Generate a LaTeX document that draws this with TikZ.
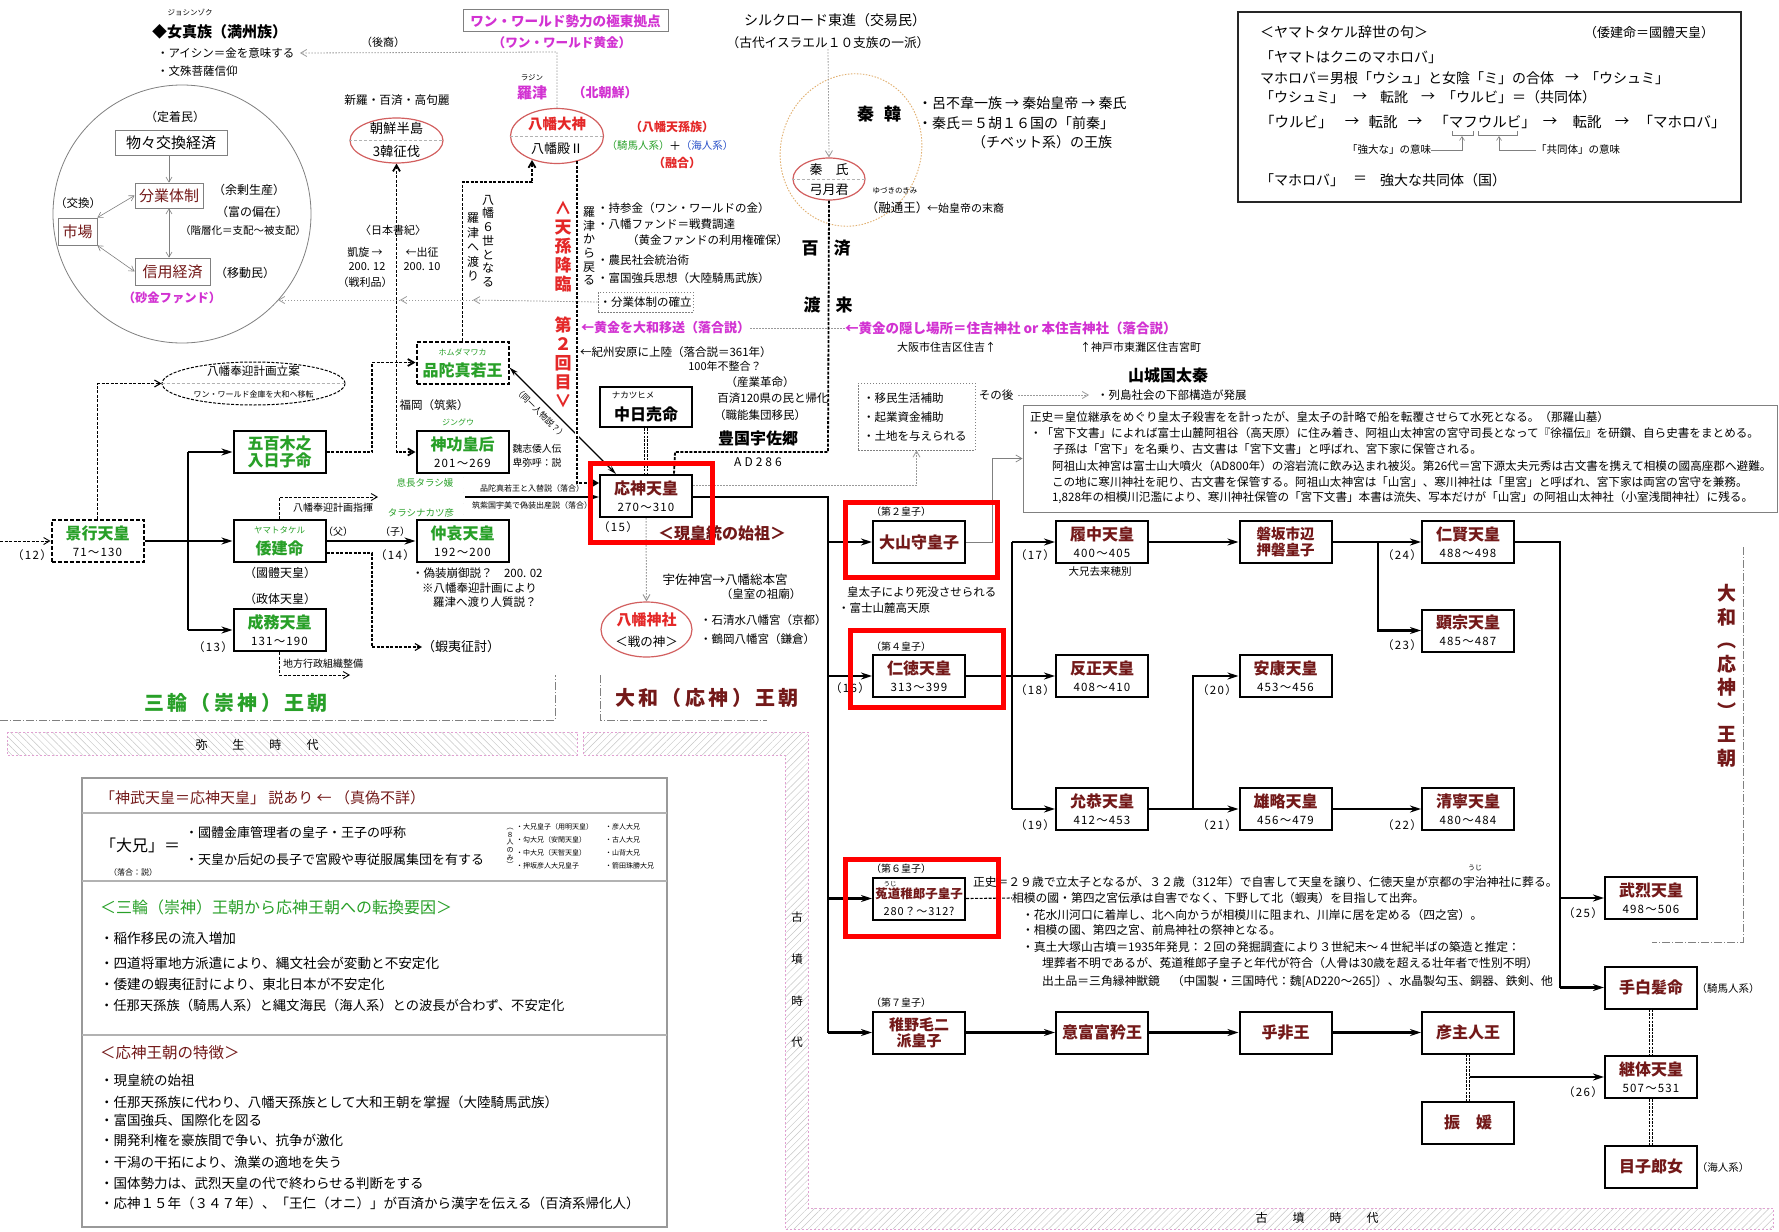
\documentclass[tikz,border=0pt]{standalone}
\usepackage{fontspec}
\setmainfont{Noto Sans CJK JP}
\usetikzlibrary{arrows.meta,shapes.geometric,patterns.meta,calc}
\definecolor{dred}{RGB}{115,25,25}
\definecolor{jgreen}{RGB}{40,160,40}
\definecolor{mag}{RGB}{210,50,210}
\definecolor{rtxt}{RGB}{228,40,40}
\definecolor{rell}{RGB}{210,95,95}
\definecolor{jblue}{RGB}{40,80,200}
\definecolor{hl}{RGB}{255,0,0}
\definecolor{eggc}{RGB}{225,175,110}
\definecolor{pinkb}{RGB}{225,160,210}
\newcommand\fsz[1]{\fontsize{#1}{#1}\selectfont}
\newcommand\fszb[2]{\fontsize{#1}{#2}\selectfont}
\tikzset{
 tx/.style={inner sep=0pt,outer sep=0pt},
 lt/.style={tx,anchor=west},
 ebox/.style={draw,line width=2pt,minimum width=92pt,minimum height=42pt,inner sep=0pt},
 dbox/.style={ebox,dash pattern=on 4pt off 2pt},
 thk/.style={line width=2.4pt,-{Stealth[length=11pt,width=7pt]}},
 thkl/.style={line width=2.4pt},
 dsh/.style={line width=1.8pt,dash pattern=on 3pt off 1.5pt},
 mdsh/.style={line width=1.1pt,dash pattern=on 3pt off 1.5pt},
 gdot/.style={gray!80,line width=0.8pt,dash pattern=on 1.5pt off 1.5pt},
 gar/.style={-{Straight Barb[length=6pt,width=7pt]}},
 dbl/.style={double=white,double distance=2.5pt,line width=0.7pt,dash pattern=on 2.5pt off 1.2pt},
 hlr/.style={draw=hl,line width=5pt},
 ovl/.style={ellipse,draw=rell,line width=1.2pt,inner sep=0pt},
 dd/.style={gray,line width=0.8pt,dash pattern=on 8pt off 2pt on 1pt off 2pt},
 spc/.style={font=\fsz{11.5}\addfontfeature{LetterSpace=12}},
}
\newcommand\emp[7]{%
 \node[#1] (#2) at (#3,#4) {};
 \node[tx,font=\fsz{16}\bfseries,text=#7] (#2n) at (#3,#4-8) {#5};
 \node[tx,font=\fsz{11.5}\addfontfeature{LetterSpace=10}] (#2d) at (#3,#4+11) {#6};}
\newcommand\sbx[7]{\node[ebox,align=center,text=#5,font=\fszb{#6}{#7}\bfseries] (#1) at (#2,#3) {#4};}
\begin{document}
\begin{tikzpicture}[x=1pt,y=-1pt]
\useasboundingbox (0,0) rectangle (1779,1231);
\fill[white] (0,0) rectangle (1779,1231);
% ---------------- period bands
\fill[pattern={Lines[angle=-45,distance=5pt,line width=0.45pt]},pattern color=gray!45] (7,732) rectangle (577,755);
\draw[pinkb,line width=0.7pt,dash pattern=on 2pt off 2pt] (7,732) rectangle (577,755);
\fill[pattern={Lines[angle=45,distance=5pt,line width=0.45pt]},pattern color=gray!45] (583,732) -- (808,732) -- (808,1208) -- (1773,1208) -- (1773,1229) -- (785,1229) -- (785,755) -- (583,755) -- cycle;
\draw[pinkb,line width=0.7pt,dash pattern=on 2pt off 2pt] (583,732) -- (808,732) -- (808,1208) -- (1773,1208) -- (1773,1229) -- (785,1229) -- (785,755) -- (583,755) -- cycle;
\node[tx,font=\fsz{12}] (yayoi) at (257,745) {弥\hspace{25pt}生\hspace{25pt}時\hspace{25pt}代};
\node[tx,font=\fsz{12}] (kofun1) at (1317,1218) {古\hspace{25pt}墳\hspace{25pt}時\hspace{25pt}代};
\node[tx,align=center,font=\fszb{11.5}{41.7}] (kofun2) at (797,980) {古\\墳\\時\\代};
% dynasty brackets
\draw[dd] (0,720) -- (555,720) -- (555,675);
\draw[dd] (600,675) -- (600,720) -- (767,720);
\draw[dd] (1743,547) -- (1743,942) -- (1652,942);
\node[tx,font=\fsz{20}\bfseries\addfontfeature{LetterSpace=17},text=jgreen] (miwa) at (236,703) {三輪（崇神）王朝};
\node[tx,font=\fsz{20}\bfseries\addfontfeature{LetterSpace=17},text=dred] (yamatoo) at (707,698) {大和（応神）王朝};
\node[tx,align=center,font=\fszb{19}{23.5}\bfseries,text=dred] (yamv) at (1727,676) {大\\和\\︵\\応\\神\\︶\\王\\朝};
% ---------------- top left: Jurchen
\node[tx,font=\fsz{7.5}] (jr) at (190,13) {ジョシンゾク};
\node[lt,font=\fsz{15}\bfseries] (jur) at (152,32) {◆女真族（満州族）};
\node[lt,font=\fsz{11.5}] (ais) at (157,53) {・アイシン＝金を意味する};
\node[lt,font=\fsz{11.5}] (mon) at (157,71) {・文殊菩薩信仰};
\node[tx,font=\fsz{11}] (koe) at (383,42) {（後裔）};
\coordinate (jarr) at (300,53);
% economy circle
\node[circle,draw=gray,line width=0.8pt,minimum size=258pt,inner sep=0pt] (econ) at (182,214) {};
\node[tx,font=\fsz{12}] (teichaku) at (175,117) {（定着民）};
\node[draw=gray,line width=0.8pt,minimum width=112pt,minimum height=25pt,inner sep=0pt,font=\fsz{15}] (butsu) at (171,142.5) {物々交換経済};
\node[draw=gray,line width=0.8pt,minimum width=68pt,minimum height=25pt,inner sep=0pt,font=\fsz{15},text=dred] (bungyo) at (169,195.5) {分業体制};
\node[draw=gray,line width=0.8pt,minimum width=39pt,minimum height=27pt,inner sep=0pt,font=\fsz{15},text=dred] (ichiba) at (77.5,231.5) {市場};
\node[draw=gray,line width=0.8pt,minimum width=75pt,minimum height=27pt,inner sep=0pt,font=\fsz{15},text=dred] (shinyo) at (172.5,271.5) {信用経済};
\node[lt,font=\fsz{12}] (yojo) at (213,190) {（余剰生産）};
\node[lt,font=\fsz{12}] (tomi) at (216,212) {（富の偏在）};
\node[lt,font=\fsz{10.5}] (kaiso) at (180,231) {（階層化＝支配～被支配）};
\node[tx,font=\fsz{11.5}] (kokan) at (78,203) {（交換）};
\node[lt,font=\fsz{12}] (idomin) at (215,273) {（移動民）};
\node[tx,font=\fsz{12.3}\bfseries,text=mag] (sakin) at (172,298) {（砂金ファンド）};
\draw[gray,line width=0.6pt,-{Straight Barb[length=5pt,width=6pt]}] (butsu.south -| bungyo.north) -- (bungyo.north);
\draw[gray,line width=0.6pt,{Straight Barb[length=5pt,width=6pt]}-{Straight Barb[length=5pt,width=6pt]}] (bungyo.south) -- (bungyo.south |- shinyo.north);
\draw[gray,line width=0.6pt,{Straight Barb[length=5pt,width=6pt]}-{Straight Barb[length=5pt,width=6pt]}] (ichiba.north east) -- (bungyo.west);
\draw[gray,line width=0.6pt,{Straight Barb[length=5pt,width=6pt]}-{Straight Barb[length=5pt,width=6pt]}] (ichiba.south east) -- (shinyo.west);
% ---------------- Korea
\node[tx,font=\fsz{11.7}] (shiragi) at (397,100) {新羅・百済・高句麗};
\node[ovl,minimum width=93pt,minimum height=45pt] (chosen) at (396.5,140.5) {};
\draw[gray!60,densely dashed,line width=0.5pt] (chosen.west) -- (chosen.east);
\node[tx,font=\fsz{13.3}] (chosen1) at (396.5,128) {朝鮮半島};
\node[tx,font=\fsz{13.3}] (chosen2) at (396.5,151) {3韓征伐};
\node[tx,font=\fsz{11}] (nihon) at (393,230) {〈日本書紀〉};
\node[tx,font=\fsz{11}] (gaisen) at (365,252) {凱旋 →};
\node[tx,font=\fsz{11}] (shussei) at (422,252) {←出征};
\node[tx,font=\fsz{11}] (dt1) at (367,267) {200. 12};
\node[tx,font=\fsz{11}] (dt2) at (422,267) {200. 10};
\node[tx,font=\fsz{11}] (senri) at (365,282) {（戦利品）};
% Hachiman plan ellipse
\node[ellipse,draw,line width=1pt,dash pattern=on 3pt off 1.5pt,minimum width=183pt,minimum height=43pt,inner sep=0pt] (hoge) at (253.5,383.5) {};
\draw[gray!60,densely dashed,line width=0.5pt] (hoge.west) -- (hoge.east);
\node[tx,font=\fsz{11.6}] (hoge1) at (253.5,371) {八幡奉迎計画立案};
\node[tx,font=\fsz{8}] (hoge2) at (253.5,394) {ワン・ワールド金庫を大和へ移転};
% ---------------- One World / Hachiman
\node[draw=gray,line width=1pt,minimum width=205pt,minimum height=22pt,inner sep=0pt,font=\fsz{13.6}\bfseries,text=mag] (ww) at (565.5,21) {ワン・ワールド勢力の極東拠点};
\node[tx,font=\fsz{12.6}\bfseries,text=mag] (wwg) at (562,43) {（ワン・ワールド黄金）};
\node[tx,font=\fsz{7.5}] (rajinr) at (532,78) {ラジン};
\node[tx,font=\fsz{15}\bfseries,text=mag] (rajin) at (532,93) {羅津};
\node[tx,font=\fsz{13}\bfseries,text=mag] (kitach) at (605,93) {（北朝鮮）};
\node[ovl,minimum width=93pt,minimum height=55pt] (hachiman) at (557,136) {};
\draw[gray!60,densely dashed,line width=0.5pt] (hachiman.west) -- (hachiman.east);
\node[tx,font=\fsz{14.5}\bfseries,text=rtxt] (hm1) at (557,124) {八幡大神};
\node[tx,font=\fsz{13}] (hm2) at (557,149) {八幡殿Ⅱ};
\node[tx,font=\fsz{12}\bfseries,text=rtxt] (tenson) at (672,127) {（八幡天孫族）};
\node[tx,font=\fsz{10.5},text=jgreen] (kiba) at (638,146) {（騎馬人系）};
\node[tx,font=\fsz{12}] (plus) at (675,146) {＋};
\node[tx,font=\fsz{10.5},text=jblue] (ama) at (707,146) {（海人系）};
\node[tx,font=\fsz{12}\bfseries,text=rtxt] (yugo) at (677,163) {（融合）};
\draw[gdot,gar] (hachiman.north) -- (557,52) -- (jarr);
\node[tx,align=center,font=\fszb{17}{19}\bfseries,text=rtxt] (korin) at (563,247) {∧\\天\\孫\\降\\臨};
\node[tx,align=center,font=\fszb{17}{19}\bfseries,text=rtxt] (dai2) at (563,362) {第\\２\\回\\目\\∨};
\node[tx,align=center,font=\fszb{12}{13.7}] (roku) at (488,241) {八\\幡\\６\\世\\と\\な\\る};
\node[tx,align=center,font=\fszb{12}{14.5}] (watari) at (473,247) {羅\\津\\へ\\渡\\り};
\node[tx,align=center,font=\fszb{12}{13.7}] (modoru) at (589,246) {羅\\津\\か\\ら\\戻\\る};
\node[lt,font=\fsz{11.5}] (b1) at (597,208) {・持参金（ワン・ワールドの金）};
\node[lt,font=\fsz{11.5}] (b2) at (597,224) {・八幡ファンド＝戦費調達};
\node[lt,font=\fsz{11.5}] (b3) at (627,240) {（黄金ファンドの利用権確保）};
\node[lt,font=\fsz{11.5}] (b4) at (597,260) {・農民社会統治術};
\node[lt,font=\fsz{11.5}] (b5) at (597,278) {・富国強兵思想（大陸騎馬武族）};
\node[draw=gray,line width=0.7pt,dash pattern=on 1.5pt off 1.5pt,minimum width=95pt,minimum height=20pt,inner sep=0pt,font=\fsz{11.5}] (bkaku) at (645.5,302) {・分業体制の確立};
\coordinate (ca) at (473,300);
\coordinate (cb) at (400,300);
\draw[gdot,gar] (bkaku.west) -- (ca);
\draw[gdot,gar] (ca) -- (cb);
\draw[gdot,gar] (cb) -- (278,300);
\node[lt,font=\fsz{13}\bfseries,text=mag] (ougon1) at (581,328) {←黄金を大和移送（落合説）};
\node[lt,font=\fsz{13.5}\bfseries,text=mag] (ougon2) at (845,328) {←黄金の隠し場所＝住吉神社 or 本住吉神社（落合説）};
\draw[gdot] (ougon1.east) -- (ougon2.west);
\node[lt,font=\fsz{11}] (osaka) at (897,347) {大阪市住吉区住吉↑};
\node[lt,font=\fsz{11}] (kobe) at (1080,347) {↑神戸市東灘区住吉宮町};
\node[lt,font=\fsz{11.5}] (kishu) at (580,352) {←紀州安原に上陸（落合説＝361年）};
\node[tx,font=\fsz{11}] (fusei) at (725,366) {100年不整合？};
\node[tx,font=\fsz{11.5}] (sangyo) at (760,382) {（産業革命）};
\node[tx,font=\fsz{11.5}] (kudara) at (773,398) {百済120県の民と帰化};
\node[tx,font=\fsz{11.5}] (shokuno) at (760,415) {（職能集団移民）};
\node[tx,font=\fsz{16}\bfseries] (usa) at (758,438) {豊国宇佐郷};
\node[tx,font=\fsz{12}\addfontfeature{LetterSpace=25}] (ad286) at (758,462) {AD286};
% ---------------- Qin / Hata
\node[tx,font=\fsz{14}] (silk1) at (835,20) {シルクロード東進（交易民）};
\node[tx,font=\fsz{12.7}] (silk2) at (828,43) {（古代イスラエル１０支族の一派）};
\draw[eggc,line width=0.9pt,dash pattern=on 1.5pt off 1.5pt,rotate around={-20:(851,150)}] (851,150) ellipse [x radius=70pt,y radius=77pt];
\node[ovl,minimum width=72pt,minimum height=42pt] (hata) at (829,179) {};
\draw[gray!60,densely dashed,line width=0.5pt] (hata.west) -- (hata.east);
\node[tx,font=\fsz{13}] (hata1) at (829,170) {秦　氏};
\node[tx,font=\fsz{13}] (hata2) at (829,190) {弓月君};
\draw[gdot,gar] (silk2.south) -- (hata.north);
\node[tx,font=\fsz{17}\bfseries] (shinkan) at (879,114) {秦\hspace{10pt}韓};
\node[lt,font=\fsz{14}] (ryo1) at (918,103) {・呂不韋一族 → 秦始皇帝 → 秦氏};
\node[lt,font=\fsz{14}] (ryo2) at (918,123) {・秦氏＝５胡１６国の「前秦」};
\node[lt,font=\fsz{14}] (ryo3) at (972,142) {（チベット系）の王族};
\node[tx,font=\fsz{7.5}] (yuzur) at (895,191) {ゆづきのきみ};
\node[tx,font=\fsz{12.5}] (yuzu) at (897,208) {（融通王）};
\node[lt,font=\fsz{11}] (shiko) at (927,208) {←始皇帝の末裔};
\node[tx,font=\fsz{17}\bfseries] (kudara2) at (826,248) {百\hspace{15pt}済};
\node[tx,font=\fsz{17}\bfseries] (toraii) at (828,305) {渡\hspace{15pt}来};
\node[tx,font=\fsz{16}\bfseries] (uzumasa) at (1168,375) {山城国太秦};
\node[tx,font=\fsz{11.5}] (sonogo) at (996,395) {その後};
\node[lt,font=\fsz{11.5}] (rettou) at (1097,395) {・列島社会の下部構造が発展};
\draw[gdot,gar] ([xshift=5pt]sonogo.east) -- ([xshift=-8pt]rettou.west);
\node[draw=gray,line width=0.8pt,dash pattern=on 1.5pt off 1.5pt,minimum width=117pt,minimum height=67pt,inner sep=0pt] (imin) at (916.5,416.5) {};
\node[lt,font=\fsz{11.5}] (imin1) at (863,398) {・移民生活補助};
\node[lt,font=\fsz{11.5}] (imin2) at (863,417) {・起業資金補助};
\node[lt,font=\fsz{11.5}] (imin3) at (863,436) {・土地を与えられる};
% ---------------- Yamato Takeru box
\node[draw=black!85,line width=2.2pt,minimum width=503pt,minimum height=190pt,inner sep=0pt] (ymt) at (1489.5,107) {};
\node[lt,font=\fsz{14}] (y1) at (1260,32) {＜ヤマトタケル辞世の句＞};
\node[tx,font=\fsz{13}] (y1b) at (1649,33) {（倭建命＝國體天皇）};
\node[lt,font=\fsz{14}] (y2) at (1260,57) {「ヤマトはクニのマホロバ」};
\node[lt,font=\fsz{14}] (y3a) at (1260,78) {マホロバ＝男根「ウシュ」と女陰「ミ」の合体};
\node[tx,font=\fsz{14}] (y3b) at (1572,78) {→};
\node[tx,font=\fsz{14}] (y3c) at (1627,78) {「ウシュミ」};
\node[lt,font=\fsz{14}] (y4a) at (1260,97) {「ウシュミ」};
\node[tx,font=\fsz{14}] (y4b) at (1360,97) {→};
\node[tx,font=\fsz{14}] (y4c) at (1394,97) {転訛};
\node[tx,font=\fsz{14}] (y4d) at (1428,97) {→};
\node[lt,font=\fsz{14}] (y4e) at (1442,97) {「ウルビ」＝（共同体）};
\node[lt,font=\fsz{14.5}] (y5a) at (1260,122) {「ウルビ」};
\node[tx,font=\fsz{14.5}] (y5b) at (1352,122) {→};
\node[tx,font=\fsz{14.5}] (y5c) at (1383,122) {転訛};
\node[tx,font=\fsz{14.5}] (y5d) at (1415,122) {→};
\node[tx,font=\fsz{14.5}] (y5e) at (1485,122) {「マフウルビ」};
\node[tx,font=\fsz{14.5}] (y5f) at (1550,122) {→};
\node[tx,font=\fsz{14.5}] (y5g) at (1587,122) {転訛};
\node[tx,font=\fsz{14.5}] (y5h) at (1622,122) {→};
\node[tx,font=\fsz{14.5}] (y5i) at (1682,122) {「マホロバ」};
\draw[gray,line width=0.6pt] (1452,131) -- (1452,135) -- (1473,135) -- (1473,131);
\draw[gray,line width=0.6pt] (1478,131) -- (1478,135) -- (1517,135) -- (1517,131);
\node[tx,font=\fsz{10.5}] (kyodai) at (1389,150) {「強大な」の意味};
\node[tx,font=\fsz{10.5}] (kyodo) at (1578,150) {「共同体」の意味};
\draw[gray,line width=0.6pt,-{Straight Barb[length=4pt,width=5pt]}] (kyodai.east) -| (1462,136);
\draw[gray,line width=0.6pt,-{Straight Barb[length=4pt,width=5pt]}] (kyodo.west) -| (1499,136);
\node[lt,font=\fsz{14}] (y7a) at (1260,180) {「マホロバ」};
\node[tx,font=\fsz{14}] (y7b) at (1360,180) {＝};
\node[lt,font=\fsz{14}] (y7c) at (1380,180) {強大な共同体（国）};
% ---------------- left genealogy (Miwa)
\emp{dbox}{keiko}{97.5}{541}{景行天皇}{71～130}{jgreen}
\node[ebox] (iogi) at (279.5,452) {};
\node[tx,align=center,font=\fszb{16}{17}\bfseries,text=jgreen] (iogin) at (279.5,452) {五百木之\\入日子命};
\node[ebox] (yamato) at (279.5,541) {};
\node[tx,font=\fsz{8.5},text=jgreen] (yamator) at (279.5,530) {ヤマトタケル};
\node[tx,font=\fsz{16}\bfseries,text=jgreen] (yamaton) at (279.5,548) {倭建命};
\emp{ebox}{seimu}{279.5}{630}{成務天皇}{131～190}{jgreen}
\emp{ebox}{jingu}{462.5}{452}{神功皇后}{201～269}{jgreen}
\emp{ebox}{chuai}{462.5}{541}{仲哀天皇}{192～200}{jgreen}
\node[dbox] (homuda) at (462.5,362.5) {};
\node[tx,font=\fsz{8},text=jgreen] (homudar) at (462.5,352) {ホムダマワカ};
\node[tx,font=\fsz{16}\bfseries,text=jgreen] (homudan) at (462.5,370) {品陀真若王};
\emp{ebox}{ojin}{646}{496}{応神天皇}{270～310}{dred}
\node[tx,spc] (n12) at (32,555) {（12）};
\node[tx,spc] (n13) at (213,647) {（13）};
\node[tx,spc] (n14) at (395,555) {（14）};
\node[tx,font=\fsz{12}] (kokutai) at (280,573) {（國體天皇）};
\node[tx,font=\fsz{12}] (seitai) at (280,599) {（政体天皇）};
\node[tx,font=\fsz{10}] (chichi) at (338,532) {（父）};
\node[tx,font=\fsz{10}] (ko) at (395,532) {（子）};
\node[tx,font=\fsz{10}] (shiki) at (333,508) {八幡奉迎計画指揮};
\node[tx,font=\fsz{10}] (chiho) at (323,664) {地方行政組織整備};
\node[tx,font=\fsz{13}] (ezo) at (461,647) {（蝦夷征討）};
\node[tx,font=\fsz{11.5}] (fuku) at (434,405) {福岡（筑紫）};
\node[tx,font=\fsz{8},text=jgreen] (jingur) at (458,422) {ジングウ};
\node[tx,font=\fsz{9.8}] (gishi1) at (537,449) {魏志倭人伝};
\node[tx,font=\fsz{9.8}] (gishi2) at (537,463) {卑弥呼：説};
\node[tx,font=\fsz{9.5},text=jgreen] (okinaga) at (425,483) {息長タラシ媛};
\node[tx,font=\fsz{9.5},text=jgreen] (tarashi) at (421,513) {タラシナカツ彦};
\node[lt,font=\fsz{11.5}] (giso1) at (412,573) {・偽装崩御説？　200. 02};
\node[lt,font=\fsz{11.5}] (giso2) at (422,588) {※八幡奉迎計画により};
\node[lt,font=\fsz{11.5}] (giso3) at (433,602) {羅津へ渡り人質説？};
\node[tx,font=\fsz{8}] (irekae) at (532,488) {品陀真若王と入替説（落合）};
\node[tx,font=\fsz{8}] (chikushi) at (532,505) {筑紫国宇美で偽装出産説（落合）};
% left connectors
\coordinate (lin) at (0,541);
\draw[mdsh,line width=0.9pt,gar] (lin) -- (keiko.west);
\coordinate (k1) at (188,541);
\coordinate (k1t) at (188,452);
\coordinate (k1b) at (188,630);
\draw[thkl] (keiko.east) -- (k1);
\draw[thkl] (k1t) -- (k1b);
\draw[thk] (k1) -- (yamato.west);
\draw[thk] (k1t) -- (iogi.west);
\draw[thk] (k1b) -- (seimu.west);
\draw[thk] (yamato.east) -- (chuai.west);
\draw[mdsh,gar] (keiko.north) |- (hoge.west);
\draw[dsh,gar] (iogi.east) -- (372,452) -- (372,362.5) -- (homuda.west);
\draw[dsh,{Straight Barb[length=6pt,width=7pt]}-{Straight Barb[length=6pt,width=7pt]}] (chosen.south) |- (jingu.west);
\coordinate (shikie) at (378,497);
\draw[mdsh,line width=0.9pt,gar] (yamato.north) |- (shikie);
\coordinate (chihoe) at (350,675);
\draw[mdsh,line width=0.9pt,gar] (seimu.south) |- (chihoe);
\draw[mdsh,gar] ([yshift=-12pt]yamato.east) -- (372,553) -- (372,647) -- (ezo.west);
\draw[dbl] (jingu.south) -- (chuai.north);
\coordinate (ire) at (465,497);
\draw[thk] (ire) -- (ire -| ojin.west);
\draw[dsh,-{Straight Barb[length=6pt,width=7pt]}] (homuda.north) |- (532,182) -- (532,160);
% ---------------- Ojin
\node[draw,line width=2.4pt,minimum width=92pt,minimum height=40pt,inner sep=0pt] (naka) at (646,407) {};
\node[tx,font=\fsz{8.5}] (nakar) at (633,395) {ナカツヒメ};
\node[tx,font=\fsz{16}\bfseries] (nakan) at (646,414) {中日売命};
\draw[dbl] (naka.south) -- (ojin.north);
\draw[line width=1.3pt,{Stealth[length=9pt,width=5pt]}-{Stealth[length=9pt,width=5pt]}] ([yshift=-5pt]homuda.east) -- ([xshift=17pt]ojin.north west) node[pos=0.36,below=2pt,sloped,font=\fsz{8.5}] (doitsu) {（同一人物説？）};
\coordinate (h8b) at (577,161);
\draw[white,line width=4pt] (577,428) -- (577,440);
\draw[dsh,-{Straight Barb[length=6pt,width=7pt]}] (h8b) -- (577,483) -- ([yshift=13pt]ojin.west);
\draw[dsh] (hata.south) -- (828,452) -- (675,452) -- ([xshift=75pt]ojin.north west);
\node[tx,spc] (n15) at (618,527) {（15）};
\node[tx,font=\fsz{16}\bfseries,text=dred] (genko) at (722,533) {＜現皇統の始祖＞};
\node[ovl,minimum width=91pt,minimum height=55pt] (hjinja) at (646.5,629.5) {};
\node[tx,font=\fsz{15}\bfseries,text=rtxt] (hj1) at (646.5,620) {八幡神社};
\node[tx,font=\fsz{12.5}] (hj2) at (646.5,642) {＜戦の神＞};
\draw[gdot,line width=1pt,gar] (ojin.south) -- (hjinja.north);
\node[tx,font=\fsz{12.5}] (usajingu) at (725,580) {宇佐神宮→八幡総本宮};
\node[tx,font=\fsz{11.5}] (soubyo) at (761,594) {（皇室の祖廟）};
\node[lt,font=\fsz{11.5}] (iwa) at (700,620) {・石清水八幡宮（京都）};
\node[lt,font=\fsz{11.5}] (tsuru) at (700,639) {・鶴岡八幡宮（鎌倉）};
\draw[gdot,gar] ([yshift=11pt]ojin.east) -| (imin.south);
% ---------------- right genealogy
\node[ebox,font=\fsz{16}\bfseries,text=dred] (oyama) at (919,542) {大山守皇子};
\emp{ebox}{nintoku}{919}{676}{仁徳天皇}{313～399}{dred}
\node[ebox] (uji) at (919,898.5) {};
\node[tx,font=\fsz{6.5}] (ujir) at (890,884) {うじ};
\node[tx,font=\fsz{12.5}\bfseries,text=dred] (ujin) at (919,894) {菟道稚郎子皇子};
\node[tx,font=\fsz{11}\addfontfeature{LetterSpace=8}] (ujid) at (919,911) {280？～312?};
\sbx{wakanu}{919}{1032.5}{稚野毛二\\派皇子}{dred}{15}{16}
\emp{ebox}{richu}{1102}{542}{履中天皇}{400～405}{dred}
\emp{ebox}{hanzei}{1102}{676}{反正天皇}{408～410}{dred}
\emp{ebox}{ingyo}{1102}{809}{允恭天皇}{412～453}{dred}
\sbx{iwasaka}{1285.5}{542}{磐坂市辺\\押磐皇子}{dred}{14.5}{16}
\emp{ebox}{anko}{1285.5}{676}{安康天皇}{453～456}{dred}
\emp{ebox}{yuryaku}{1285.5}{809}{雄略天皇}{456～479}{dred}
\emp{ebox}{ninken}{1468}{542}{仁賢天皇}{488～498}{dred}
\emp{ebox}{kenzo}{1468}{630.5}{顕宗天皇}{485～487}{dred}
\emp{ebox}{seinei}{1468}{809}{清寧天皇}{480～484}{dred}
\emp{ebox}{buretsu}{1651}{898}{武烈天皇}{498～506}{dred}
\sbx{tenashi}{1651}{987.5}{手白髪命}{dred}{16}{17}
\emp{ebox}{keitai}{1651}{1077}{継体天皇}{507～531}{dred}
\sbx{mekko}{1651}{1166.5}{目子郎女}{dred}{16}{17}
\sbx{ohodo}{1102}{1032.5}{意富富矜王}{dred}{16}{17}
\sbx{ohi}{1285.5}{1032.5}{乎非王}{dred}{16}{17}
\sbx{hikoushi}{1468}{1032.5}{彦主人王}{dred}{16}{17}
\sbx{furi}{1468}{1122.5}{振　媛}{dred}{16}{17}
% labels
\node[tx,font=\fsz{10}] (dai2k) at (901,512) {（第２皇子）};
\node[tx,font=\fsz{10}] (dai4k) at (901,647) {（第４皇子）};
\node[tx,font=\fsz{10}] (dai6k) at (901,869) {（第６皇子）};
\node[tx,font=\fsz{10}] (dai7k) at (901,1003) {（第７皇子）};
\node[tx,spc] (n16) at (850,688) {（16）};
\node[tx,spc] (n17) at (1035,555) {（17）};
\node[tx,spc] (n18) at (1035,690) {（18）};
\node[tx,spc] (n19) at (1035,825) {（19）};
\node[tx,spc] (n20) at (1217,690) {（20）};
\node[tx,spc] (n21) at (1217,825) {（21）};
\node[tx,spc] (n22) at (1402,825) {（22）};
\node[tx,spc] (n23) at (1402,645) {（23）};
\node[tx,spc] (n24) at (1402,555) {（24）};
\node[tx,spc] (n25) at (1583,913) {（25）};
\node[tx,spc] (n26) at (1583,1092) {（26）};
\node[tx,font=\fsz{10.5}] (ooe) at (1100,572) {大兄去来穂別};
\node[lt,font=\fsz{11.5}] (shibotsu) at (847,592) {皇太子により死没させられる};
\node[lt,font=\fsz{11.5}] (fuji) at (838,608) {・富士山麓高天原};
\node[tx,font=\fsz{10.5}] (kiba2) at (1728,988) {（騎馬人系）};
\node[tx,font=\fsz{10.5}] (ama2) at (1723,1167) {（海人系）};
% connectors right
\coordinate (v1t) at (828,497);
\coordinate (v1b) at (828,1032.5);
\draw[thkl] (ojin.east |- v1t) -- (v1t) -- (v1b);
\draw[thk] (v1t |- oyama) -- (oyama.west);
\draw[thk] (v1t |- nintoku) -- (nintoku.west);
\draw[thk] (v1t |- uji) -- (uji.west);
\draw[thk] (v1b) -- (wakanu.west);
\coordinate (v2t) at (1012,542);
\coordinate (v2b) at (1012,809);
\draw[thkl] (v2t) -- (v2b);
\draw[thk] (nintoku.east) -- (hanzei.west);
\draw[thk] (v2t) -- (richu.west);
\draw[thk] (v2b) -- (ingyo.west);
\draw[thk] (richu.east) -- (iwasaka.west);
\draw[thk] (iwasaka.east) -- (ninken.west);
\coordinate (v3) at (1378,542);
\draw[thk] (v3) |- (kenzo.west);
\draw[thk] (ingyo.east) -- (yuryaku.west);
\coordinate (v4) at (1193,809);
\draw[thk] (v4) |- (anko.west);
\draw[thk] (yuryaku.east) -- (seinei.west);
\coordinate (v5t) at (1560,542);
\coordinate (v5b) at (1560,987.5);
\draw[thkl] (ninken.east) -- (v5t) -- (v5b);
\draw[thk] (v5b) -- (tenashi.west);
\draw[thk] (v5t |- buretsu) -- (buretsu.west);
\draw[thk] (wakanu.east) -- (ohodo.west);
\draw[thk] (ohodo.east) -- (ohi.west);
\draw[thk] (ohi.east) -- (hikoushi.west);
\draw[dbl] (hikoushi.south) -- (furi.north);
\draw[dbl] (tenashi.south) -- (keitai.north);
\draw[dbl] (keitai.south) -- (mekko.north);
\coordinate (kj) at (1470,1077);
\draw[thk] (kj) -- (keitai.west);
\coordinate (ujie) at (1012,898);
\draw[mdsh] (uji.east) -- (ujie);
% Oyama text box
\node[draw=gray,line width=1pt,minimum width=754pt,minimum height=107pt,inner sep=0pt] (seishi) at (1400,458.5) {};
\draw[gray,line width=0.7pt,-{Straight Barb[length=6pt,width=7pt]}] (oyama.east) -- (992,542) |- (seishi.west);
\node[lt,font=\fsz{11.6}] (s1) at (1030,417) {正史＝皇位継承をめぐり皇太子殺害をを計ったが、皇太子の計略で船を転覆させらて水死となる。（那羅山墓）};
\node[lt,font=\fsz{11.6}] (s2) at (1030,433) {・「宮下文書」によれば富士山麓阿祖谷（高天原）に住み着き、阿祖山太神宮の宮守司長となって『徐福伝』を研鑽、自ら史書をまとめる。};
\node[lt,font=\fsz{11.6}] (s3) at (1053,449) {子孫は「宮下」を名乗り、古文書は「宮下文書」と呼ばれ、宮下家に保管される。};
\node[lt,font=\fsz{11.6}] (s4) at (1052,466) {阿祖山太神宮は富士山大噴火（AD800年）の溶岩流に飲み込まれ被災。第26代＝宮下源太夫元秀は古文書を携えて相模の國高座郡へ避難。};
\node[lt,font=\fsz{11.6}] (s5) at (1052,482) {この地に寒川神社を祀り、古文書を保管する。阿祖山太神宮は「山宮」、寒川神社は「里宮」と呼ばれ、宮下家は両宮の宮守を兼務。};
\node[lt,font=\fsz{11.6}] (s6) at (1052,498) {1,828年の相模川氾濫により、寒川神社保管の「宮下文書」本書は流失、写本だけが「山宮」の阿祖山太神社（小室浅間神社）に残る。};
% Uji texts
\node[tx,font=\fsz{7}] (ujir2) at (1475,868) {うじ};
\node[lt,font=\fsz{11.8}] (u1) at (973,882) {正史＝２９歳で立太子となるが、３２歳（312年）で自害して天皇を譲り、仁徳天皇が京都の宇治神社に葬る。};
\node[lt,font=\fsz{11.8}] (u2) at (1012,898) {相模の國・第四之宮伝承は自害でなく、下野して北（蝦夷）を目指して出奔。};
\node[lt,font=\fsz{11.8}] (u3) at (1022,915) {・花水川河口に着岸し、北へ向かうが相模川に阻まれ、川岸に居を定める（四之宮）。};
\node[lt,font=\fsz{11.8}] (u4) at (1022,930) {・相模の國、第四之宮、前鳥神社の祭神となる。};
\node[lt,font=\fsz{11.8}] (u5) at (1022,947) {・真土大塚山古墳＝1935年発見：２回の発掘調査により３世紀末～４世紀半ばの築造と推定：};
\node[lt,font=\fsz{11.8}] (u6) at (1042,963) {埋葬者不明であるが、菟道稚郎子皇子と年代が符合（人骨は30歳を超える壮年者で性別不明）};
\node[lt,font=\fsz{11.8}] (u7) at (1042,981) {出土品＝三角縁神獣鏡　（中国製・三国時代：魏[AD220～265]）、水晶製勾玉、銅器、鉄剣、他};
% highlights
\draw[hlr] (590,463) rectangle (712,542);
\draw[hlr] (845,502) rectangle (997,577);
\draw[hlr] (850,630) rectangle (1003,707);
\draw[hlr] (845,859) rectangle (998,936);
% ---------------- bottom-left box
\node[draw=gray!80,line width=1.2pt,minimum width=585pt,minimum height=449pt,inner sep=0pt] (lbox) at (374.5,1002.5) {};
\draw[gray!60,line width=1.2pt] (82,813) -- (667,813);
\draw[gray!60,line width=1.2pt] (82,881) -- (667,881);
\draw[gray!60,line width=1.2pt] (82,1035) -- (667,1035);
\node[lt,font=\fsz{15},text=dred] (jinmu) at (100,798) {「神武天皇＝応神天皇」 説あり ← （真偽不詳）};
\node[lt,font=\fsz{16}] (ooe1) at (100,845) {「大兄」＝};
\node[tx,font=\fsz{8}] (ochiai) at (133,872) {（落合：説）};
\node[lt,font=\fsz{13}] (ooe2) at (185,833) {・國體金庫管理者の皇子・王子の呼称};
\node[lt,font=\fsz{13}] (ooe3) at (185,860) {・天皇か后妃の長子で宮殿や専従服属集団を有する};
\node[tx,align=center,font=\fszb{7}{7.6}] (hachinin) at (510,848) {︵\\８\\人\\の\\み\\︶};
\node[lt,font=\fsz{7}] (o1) at (516,827) {・大兄皇子（用明天皇）};
\node[lt,font=\fsz{7}] (o2) at (516,840) {・勾大兄（安閑天皇）};
\node[lt,font=\fsz{7}] (o3) at (516,853) {・中大兄（天智天皇）};
\node[lt,font=\fsz{7}] (o4) at (516,866) {・押坂彦人大兄皇子};
\node[lt,font=\fsz{7}] (o5) at (605,827) {・彦人大兄};
\node[lt,font=\fsz{7}] (o6) at (605,840) {・古人大兄};
\node[lt,font=\fsz{7}] (o7) at (605,853) {・山背大兄};
\node[lt,font=\fsz{7}] (o8) at (605,866) {・箭田珠勝大兄};
\node[lt,font=\fsz{16},text=jgreen] (tenkan) at (100,907) {＜三輪（崇神）王朝から応神王朝への転換要因＞};
\node[lt,font=\fsz{13.6}] (t1) at (100,938) {・稲作移民の流入増加};
\node[lt,font=\fsz{13.6}] (t2) at (100,963) {・四道将軍地方派遣により、縄文社会が変動と不安定化};
\node[lt,font=\fsz{13.6}] (t3) at (100,984) {・倭建の蝦夷征討により、東北日本が不安定化};
\node[lt,font=\fsz{13.3}] (t4) at (100,1005) {・任那天孫族（騎馬人系）と縄文海民（海人系）との波長が合わず、不安定化};
\node[lt,font=\fsz{15.5},text=dred] (tokucho) at (100,1053) {＜応神王朝の特徴＞};
\node[lt,font=\fsz{13.5}] (f1) at (100,1080) {・現皇統の始祖};
\node[lt,font=\fsz{13.5}] (f2) at (100,1102) {・任那天孫族に代わり、八幡天孫族として大和王朝を掌握（大陸騎馬武族）};
\node[lt,font=\fsz{13.5}] (f3) at (100,1120) {・富国強兵、国際化を図る};
\node[lt,font=\fsz{13.5}] (f4) at (100,1140) {・開発利権を豪族間で争い、抗争が激化};
\node[lt,font=\fsz{13.5}] (f5) at (100,1162) {・干潟の干拓により、漁業の適地を失う};
\node[lt,font=\fsz{13.5}] (f6) at (100,1183) {・国体勢力は、武烈天皇の代で終わらせる判断をする};
\node[lt,font=\fsz{13.5}] (f7) at (100,1203) {・応神１５年（３４７年）、「王仁（オニ）」が百済から漢字を伝える（百済系帰化人）};
\end{tikzpicture}
\end{document}
